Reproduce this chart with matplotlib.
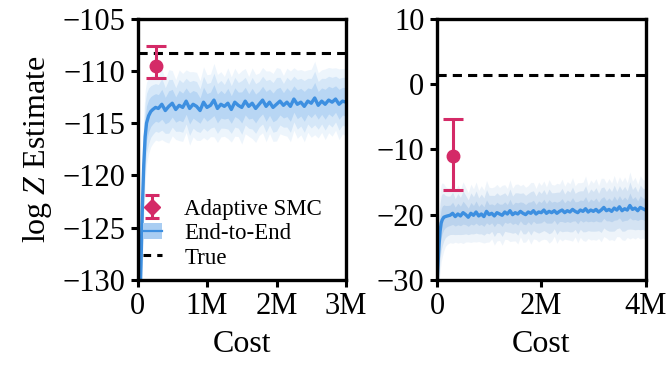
import numpy as np
import matplotlib
matplotlib.use("Agg")
import matplotlib.pyplot as plt
from matplotlib.lines import Line2D
from matplotlib.patches import Patch

plt.rcParams['font.family'] = ['Liberation Serif', 'DejaVu Serif']
plt.rcParams['mathtext.fontset'] = 'custom'
plt.rcParams['mathtext.rm'] = 'Liberation Serif'
plt.rcParams['mathtext.it'] = 'Liberation Serif:italic'

# ---------------- data (cost in millions) ----------------
left_true = -108.3
left_smc_x = 0.27
left_smc_y = -109.5
left_smc_err = [[1.2], [1.9]]   # lower, upper

left_x_start = [0.03, 0.05, 0.07, 0.09, 0.11, 0.13, 0.16, 0.19, 0.22, 0.26]
left_y_start = [-133.0, -128.5, -123.0, -119.0, -116.3, -115.0, -114.3, -113.9, -113.7, -113.5]
left_h_start = [5.0, 4.6, 4.2, 3.8, 3.4, 3.0, 2.8, 2.6, 2.5, 2.4]
left_x_main = list(np.round(np.arange(0.30, 3.001, 0.05), 2))
left_y_main = [
    -113.6, -113.2, -113.8, -113.4, -113.1, -113.7, -113.3, -113.5, -112.9, -113.6,
    -113.2, -113.4, -113.8, -113.0, -113.5, -113.3, -112.8, -113.6, -113.2, -113.4,
    -113.1, -113.7, -113.0, -113.3, -113.5, -112.9, -113.4, -113.1, -113.6, -113.2,
    -112.8, -113.4, -113.0, -113.5, -113.2, -112.9, -113.3, -113.0, -113.4, -112.7,
    -113.2, -113.0, -113.4, -112.9, -113.1, -112.6, -113.3, -112.9, -113.2, -112.8,
    -113.0, -112.7, -113.2, -112.9, -113.0]
left_h_main = [
    2.4, 2.6, 2.3, 2.7, 2.4, 2.2, 2.6, 2.5, 2.3, 2.7,
    2.4, 2.5, 2.2, 2.6, 2.4, 2.3, 2.7, 2.5, 2.4, 2.2,
    2.6, 2.4, 2.5, 2.3, 2.7, 2.4, 2.2, 2.6, 2.5, 2.3,
    2.4, 2.6, 2.3, 2.5, 2.7, 2.4, 2.2, 2.5, 2.6, 2.3,
    2.5, 2.4, 2.6, 2.3, 2.5, 2.7, 2.4, 2.3, 2.6, 2.4,
    2.5, 2.3, 2.6, 2.4, 2.5]

right_true = 1.3
right_smc_x = 0.31
right_smc_y = -11.0
right_smc_err = [[5.2], [5.6]]

right_x_start = [0.0, 0.02, 0.04, 0.06, 0.08, 0.10, 0.13, 0.16, 0.20]
right_y_start = [-30.5, -27.5, -24.5, -22.5, -21.3, -20.8, -20.4, -20.3, -20.2]
right_h_start = [4.0, 4.2, 4.4, 4.5, 4.4, 4.2, 3.8, 3.4, 3.2]
right_x_main = list(np.round(np.arange(0.25, 4.001, 0.05), 2))
right_y_main = [
    -20.1, -19.8, -20.3, -19.9, -20.2, -19.7, -20.0, -20.4, -19.8, -20.1,
    -19.6, -20.2, -19.9, -20.3, -19.5, -20.0, -19.8, -20.2, -19.7, -19.9,
    -20.1, -19.6, -19.9, -19.4, -20.0, -19.7, -19.9, -19.5, -19.8, -20.0,
    -19.6, -19.8, -19.4, -19.9, -19.6, -19.7, -19.3, -19.8, -19.5, -19.7,
    -19.4, -19.8, -19.5, -19.3, -19.7, -19.4, -19.6, -19.2, -19.5, -19.7,
    -19.3, -19.5, -19.1, -19.6, -19.3, -19.5, -19.2, -19.6, -19.3, -18.9,
    -19.4, -19.2, -19.5, -19.0, -19.3, -18.8, -19.4, -19.1, -19.3, -18.6,
    -19.2, -19.0, -19.4, -18.9, -19.1, -19.3]
right_h_main = [
    3.1, 3.4, 2.9, 3.3, 3.0, 3.5, 3.1, 2.8, 3.3, 3.0,
    3.4, 2.9, 3.2, 3.0, 3.5, 3.1, 2.9, 3.3, 3.2, 3.0,
    3.4, 3.1, 2.9, 3.5, 3.0, 3.2, 3.4, 2.9, 3.3, 3.1,
    3.0, 3.5, 3.2, 2.9, 3.4, 3.1, 3.3, 3.0, 3.6, 3.2,
    2.9, 3.4, 3.1, 3.5, 3.0, 3.3, 3.2, 3.6, 2.9, 3.4,
    3.1, 3.3, 3.7, 3.0, 3.4, 3.2, 3.5, 3.0, 3.6, 3.3,
    3.1, 3.5, 3.2, 3.7, 3.0, 3.4, 3.3, 3.6, 3.1, 3.8,
    3.2, 3.5, 3.0, 3.6, 3.3, 3.4]

left_xticks = [0, 1, 2, 3]
left_xticklabels = ['0', '1M', '2M', '3M']
left_yticks = [-130, -125, -120, -115, -110, -105]
right_xticks = [0, 2, 4]
right_xticklabels = ['0', '2M', '4M']
right_yticks = [-30, -20, -10, 0, 10]

# ---------------- styles ----------------
LINE_C = '#3d8fe0'
BAND_C = '#a9cdf2'
BAND_C_R = '#aecbea'
SMC_C = '#d42a67'
TICK_FS = 22
LABEL_FS = 23

fig = plt.figure(figsize=(6.7, 3.83), dpi=100)
axL = fig.add_axes([137.5 / 670, 1 - 280 / 383, (346 - 137.5) / 670, (280 - 18.5) / 383])
axR = fig.add_axes([437 / 670, 1 - 280 / 383, (645.5 - 437) / 670, (280 - 18.5) / 383])


def draw(ax, xs, ys, hs, xm, ym, hm, true, sx, sy, serr, band_c, layers):
    x = np.array(xs + xm)
    y = np.array(ys + ym)
    h = np.array(hs + hm)
    for k, a in layers:
        ax.fill_between(x, y - h * k, y + h * k, color=band_c, alpha=a, lw=0)
    ax.plot(x, y, color=LINE_C, lw=2.4)
    ax.axhline(true, color='black', ls=(0, (3, 2)), lw=2.2)
    ax.errorbar([sx], [sy], yerr=serr, fmt='o', color=SMC_C, ms=9,
                elinewidth=2.2, capsize=7, capthick=2.2)


draw(axL, left_x_start, left_y_start, left_h_start, left_x_main, left_y_main,
     left_h_main, left_true, left_smc_x, left_smc_y, left_smc_err, BAND_C,
     [(1.3, 0.2), (0.95, 0.35), (0.55, 0.65)])
draw(axR, right_x_start, right_y_start, right_h_start, right_x_main, right_y_main,
     right_h_main, right_true, right_smc_x, right_smc_y, right_smc_err, BAND_C_R,
     [(1.35, 0.2), (0.95, 0.4), (0.5, 0.65)])

axL.set_xlim(0, 3)
axL.set_ylim(-130, -105)
axL.set_xticks(left_xticks)
axL.set_xticklabels(left_xticklabels)
axL.set_yticks(left_yticks)
axL.set_yticklabels([f'\u2212{abs(v)}' for v in left_yticks])
axL.set_ylabel('log $Z$ Estimate', fontsize=LABEL_FS, labelpad=6)

axR.set_xlim(0, 4)
axR.set_ylim(-30, 10)
axR.set_xticks(right_xticks)
axR.set_xticklabels(right_xticklabels)
axR.set_yticks(right_yticks)
axR.set_yticklabels([('\u2212' + str(abs(v))) if v < 0 else str(v) for v in right_yticks])

for ax in (axL, axR):
    ax.set_xlabel('Cost', fontsize=LABEL_FS, labelpad=6)
    ax.tick_params(labelsize=TICK_FS, direction='out', length=5, width=2.2, pad=4)
    for s in ax.spines.values():
        s.set_linewidth(2.4)

# legend
smc_handle = axL.errorbar([np.nan], [np.nan], yerr=[1], fmt='D', color=SMC_C, ms=8,
                          elinewidth=2.2, capsize=5, capthick=2.2)
e2e_handle = (Patch(facecolor=BAND_C, edgecolor='none'), Line2D([], [], color=LINE_C, lw=1.6))
true_handle = Line2D([], [], color='black', ls=(0, (2.5, 2)), lw=2.2)
axL.legend([smc_handle, e2e_handle, true_handle], ['Adaptive SMC', 'End-to-End', 'True'],
           loc='lower left', bbox_to_anchor=(0.0, 0.022), frameon=False, fontsize=16.5,
           handlelength=0.8, handletextpad=1.0, labelspacing=0.15, borderaxespad=0.05,
           borderpad=0.2)

fig.savefig('out.png', dpi=100)
